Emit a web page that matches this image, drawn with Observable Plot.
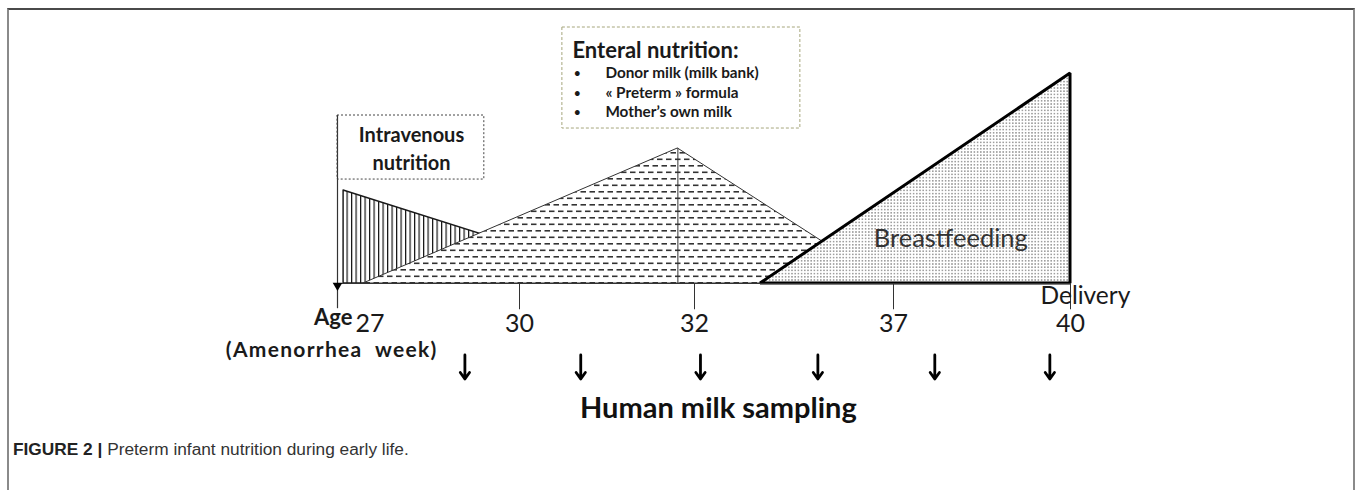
<!DOCTYPE html>
<html><head><meta charset="utf-8">
<script src="https://cdn.jsdelivr.net/npm/d3@7"></script>
<script src="https://cdn.jsdelivr.net/npm/@observablehq/plot@0.6"></script>
<style>
body{margin:0;background:#fff;}
#wrap{position:relative;width:1357px;height:490px;overflow:hidden;}
#frame{position:absolute;left:7px;top:8px;width:1344px;height:520px;border-top:2px solid #4a4a4a;border-left:2px solid #8a8a8a;border-right:2px solid #8a8a8a;}
#chart{position:absolute;left:0;top:0;}
#caption{position:absolute;left:13px;top:439px;font:17.3px "Liberation Sans",Arial,sans-serif;color:#333;white-space:nowrap;}
#caption b{color:#222;}
</style></head>
<body>
<div id="wrap"><div id="frame"></div><div id="chart"></div>
<div id="caption"><b>FIGURE 2 |</b> Preterm infant nutrition during early life.</div></div>
<script>
// Axis ticks (amenorrhea weeks) and labels
const tickWeeks = [27, 30, 32, 37, 40];
const tickLabels = ["27", "30", "32", "37", "40"];
// Human milk sampling times (weeks)
const samplingWeeks = [29.1, 30.7, 32.15, 35.1, 37.7, 39.65];
// Intravenous nutrition phase (week, relative level)
const ivWeeks = [27.1, 31.33];
const ivLevels = [44.3, 0];
// Enteral nutrition phase
const enteralWeeks = [27.43, 31.81, 36.85];
const enteralLevels = [0, 64.3, 0];
// Breastfeeding phase
const breastWeeks = [33.66, 40];
const breastLevels = [0, 100];
const enteralItems = ["Donor milk (milk bank)", "« Preterm » formula", "Mother’s own milk"];

const ink = "#1a1a1a";
const plot = Plot.plot({
  width: 1357, height: 430, margin: 0,
  style: {fontFamily: "Lato, 'Open Sans', sans-serif", background: "transparent", overflow: "visible"},
  x: {type: "linear", domain: tickWeeks, range: [337, 519, 694, 893, 1070], axis: null},
  y: {domain: [0, 100], range: [283, 73], axis: null},
  marks: [
    // intravenous triangle
    Plot.areaY(ivWeeks, {x: ivWeeks, y: ivLevels, fill: "url(#vhatch)", stroke: ink, strokeWidth: 1.4}),
    // enteral triangle
    Plot.areaY(enteralWeeks, {x: enteralWeeks, y: enteralLevels, fill: "url(#dashes)", stroke: "#333", strokeWidth: 1}),
    Plot.ruleX([enteralWeeks[1]], {y1: 0, y2: enteralLevels[1], stroke: "#333", strokeWidth: 1}),
    // breastfeeding triangle
    Plot.areaY(breastWeeks, {x: breastWeeks, y: breastLevels, fill: "url(#dots)", stroke: "#000", strokeWidth: 3, strokeLinejoin: "miter"}),
    Plot.text(["Breastfeeding"], {x: 37.97, y: 21.4, fontSize: 25.5, fill: "#333"}),
    // axis
    Plot.ruleY([0], {x1: tickWeeks[0], x2: tickWeeks[4], stroke: "#333", strokeWidth: 1.2}),
    Plot.ruleX(tickWeeks.slice(1), {y1: 0, y2: -12.5, stroke: "#333", strokeWidth: 1}),
    Plot.ruleX([tickWeeks[0]], {y1: 80, y2: -12, stroke: "#333", strokeWidth: 1.2}),
    Plot.dot([tickWeeks[0]], {x: d => d, y: 0, symbol: "triangle", rotate: 180, r: 3.6, fill: "#000", dy: 2}),
    Plot.text(tickWeeks.slice(1), {x: d => d, y: -19.5, text: (d, i) => tickLabels[i + 1], fontSize: 25, fill: ink}),
    Plot.text([tickLabels[0]], {x: tickWeeks[0], y: -19.5, textAnchor: "start", dx: 18, fontSize: 25, fill: ink}),
    Plot.text(["Delivery"], {x: tickWeeks[4], y: -5.8, textAnchor: "start", dx: -30, fontSize: 24.5, fill: ink}),
    Plot.text(["Age"], {x: tickWeeks[0], y: -16.2, textAnchor: "end", dx: 15, fontSize: 22, fontWeight: "bold", fill: ink}),
    Plot.text(["(Amenorrhea  week)"], {x: tickWeeks[0], y: -31.8, textAnchor: "end", dx: 100, fontSize: 21, fontWeight: "bold", fill: ink, className: "amen"}),
    // intravenous box
    Plot.rect([0], {x1: 27, x2: 29.42, y1: 49.5, y2: 80, fill: "none", stroke: "#444", strokeDasharray: "2,2", strokeWidth: 1}),
    Plot.text(["Intravenous\nnutrition"], {x: 28.22, y: 64.8, fontSize: 20, fontWeight: "bold", lineHeight: 1.4, fill: ink}),
    // enteral box
    Plot.rect([0], {x1: 30.49, x2: 34.66, y1: 73.8, y2: 121.9, fill: "none", stroke: "#a6a67c", strokeDasharray: "3,2", strokeWidth: 1}),
    Plot.text(["Enteral nutrition:"], {x: 30.49, y: 110.5, dx: 10, textAnchor: "start", fontSize: 22, fontWeight: "bold", fill: ink}),
    Plot.text(enteralItems, {x: 30.49, y: (d, i) => [100, 90.5, 81.4][i], dx: 11, textAnchor: "start", text: () => "•", fontSize: 13, fill: ink}),
    Plot.text(enteralItems, {x: 30.49, y: (d, i) => [100, 90.5, 81.4][i], dx: 43, textAnchor: "start", fontSize: 15.3, fontWeight: "bold", fill: ink}),
    // sampling arrows
    Plot.arrow(samplingWeeks, {x: d => d, y1: -34, y2: -45.5, stroke: "#000", strokeWidth: 2.8, headLength: 13, headAngle: 70}),
    Plot.text(["Human milk sampling"], {x: 32.6, y: -59.5, fontSize: 29, fontWeight: "bold", fill: "#111"})
  ]
});
d3.select(plot).selectAll(".amen text").attr("letter-spacing", "1.3px");
const defs = d3.select(plot).insert("defs", ":first-child");
const vh = defs.append("pattern").attr("id", "vhatch").attr("patternUnits", "userSpaceOnUse").attr("width", 4.5).attr("height", 10);
vh.append("rect").attr("width", 4.5).attr("height", 10).attr("fill", "#fff");
vh.append("rect").attr("x", 0).attr("width", 1.2).attr("height", 10).attr("fill", "#111");
const da = defs.append("pattern").attr("id", "dashes").attr("patternUnits", "userSpaceOnUse").attr("width", 9).attr("height", 13);
da.append("rect").attr("width", 9).attr("height", 13).attr("fill", "#fff");
da.append("rect").attr("x", 0).attr("y", 2.5).attr("width", 5.5).attr("height", 1.6).attr("fill", "#333");
da.append("rect").attr("x", 4.5).attr("y", 9).attr("width", 4.5).attr("height", 1.6).attr("fill", "#333");
da.append("rect").attr("x", 0).attr("y", 9).attr("width", 1).attr("height", 1.6).attr("fill", "#333");
const dt = defs.append("pattern").attr("id", "dots").attr("patternUnits", "userSpaceOnUse").attr("width", 3.2).attr("height", 3.2);
dt.append("rect").attr("width", 3.2).attr("height", 3.2).attr("fill", "#fff");
dt.append("rect").attr("x", 1).attr("y", 1).attr("width", 1.2).attr("height", 1.2).attr("fill", "#555");
document.getElementById("chart").appendChild(plot);
</script>
</body></html>
